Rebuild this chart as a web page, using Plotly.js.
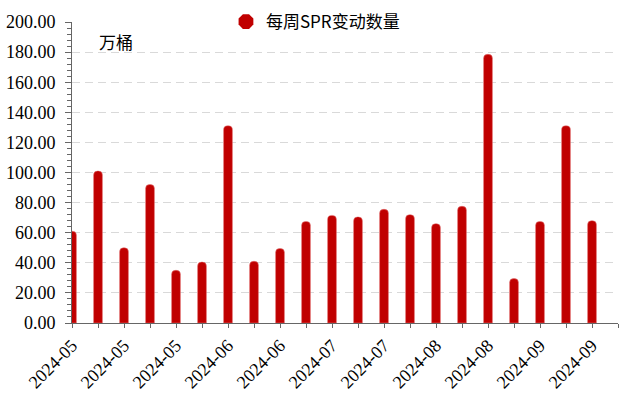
<!DOCTYPE html>
<html>
<head>
<meta charset="utf-8">
<script src="https://cdn.plot.ly/plotly-3.0.1.min.js"></script>
<style>html,body{margin:0;padding:0;background:#fff;}#chart{width:637px;height:399px;}</style>
</head>
<body>
<div id="chart"></div>
<script>
// Weekly dates (Fridays) for each bar
const weeks = ["2024-05-03","2024-05-10","2024-05-17","2024-05-24","2024-05-31",
  "2024-06-07","2024-06-14","2024-06-21","2024-06-28","2024-07-05","2024-07-12",
  "2024-07-19","2024-07-26","2024-08-02","2024-08-09","2024-08-16","2024-08-23",
  "2024-08-30","2024-09-06","2024-09-13","2024-09-20"];
// Weekly SPR change, 10k barrels
const sprChange = [61, 101, 50, 92, 35, 40.5, 131, 41, 49.5, 67.5, 71.5, 70.5, 75.5,
  72, 66, 77.5, 178.5, 29.5, 67.5, 131, 68];
const seriesName = "每周SPR变动数量";
const unitLabel = "万桶";

const idx = weeks.map((d, i) => i);
const tickVals = [];
const tickText = [];
for (let i = 0; i <= weeks.length; i++) {
  tickVals.push(i);
  tickText.push(i < weeks.length && i % 2 === 0 ? weeks[i].slice(0, 7) : "");
}

const red = "#C00000";
const serif = "Liberation Serif";
const sans = "Noto Sans CJK SC";

const traces = [
  {
    type: "bar",
    x: idx,
    y: sprChange,
    width: 0.34,
    marker: {color: red, cornerradius: 4, line: {color: "rgba(230,120,120,0.8)", width: 0.6}},
    showlegend: false,
    hoverinfo: "y"
  },
  {
    type: "scatter",
    mode: "markers",
    x: [null],
    y: [null],
    name: seriesName,
    marker: {color: red, symbol: "octagon", size: 17}
  }
];

const layout = {
  width: 637,
  height: 399,
  margin: {l: 72, r: 19, t: 22, b: 76, autoexpand: false},
  paper_bgcolor: "#fff",
  plot_bgcolor: "#fff",
  showlegend: true,
  legend: {
    orientation: "h",
    x: 0.282, xanchor: "left",
    y: 1, yanchor: "middle",
    font: {family: sans, size: 17, color: "#000"},
    bgcolor: "rgba(0,0,0,0)",
    itemwidth: 30
  },
  xaxis: {
    type: "linear",
    range: [0, 21],
    tickmode: "array",
    tickvals: tickVals,
    ticktext: tickText,
    tickangle: -45,
    ticks: "outside",
    ticklen: 4,
    tickcolor: "#666",
    showline: true,
    linecolor: "#666",
    linewidth: 1,
    showgrid: false,
    zeroline: false,
    tickfont: {family: serif, size: 18, color: "#000"}
  },
  yaxis: {
    range: [0, 200],
    dtick: 20,
    tick0: 0,
    tickformat: ".2f",
    ticks: "outside",
    ticklen: 6,
    tickcolor: "#666",
    ticklabelstandoff: 6,
    showline: true,
    linecolor: "#666",
    linewidth: 1,
    showgrid: true,
    gridcolor: "#d9d9d9",
    griddash: "8px,5px",
    zeroline: false,
    minor: {dtick: 4, ticks: "outside", ticklen: 4, tickcolor: "#666", showgrid: false},
    tickfont: {family: serif, size: 18, color: "#000"}
  },
  annotations: [
    {
      xref: "paper", yref: "paper",
      x: 0.046, y: 0.934,
      xanchor: "left", yanchor: "middle",
      text: unitLabel,
      showarrow: false,
      font: {family: sans, size: 17, color: "#000"}
    }
  ]
};

Plotly.newPlot("chart", traces, layout, {displayModeBar: false, staticPlot: true});
</script>
</body>
</html>
